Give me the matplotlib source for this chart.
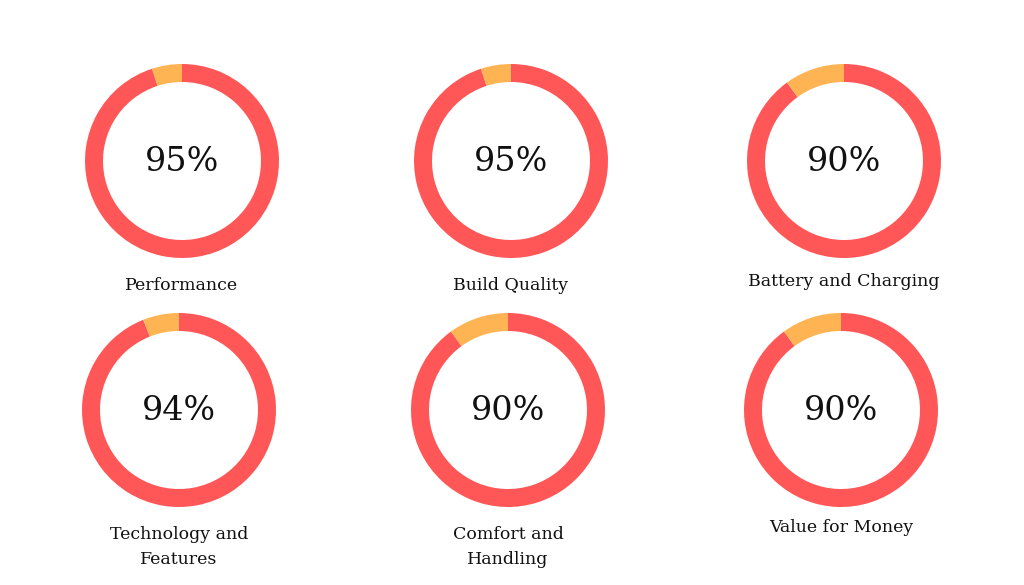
import matplotlib
matplotlib.use("Agg")
import matplotlib.pyplot as plt

categories = ["Performance", "Build Quality", "Battery and Charging",
              "Technology and\nFeatures", "Comfort and\nHandling", "Value for Money"]
scores = [95, 95, 90, 94, 90, 90]

RED = "#FF5757"
ORANGE = "#FFB454"

# layout in pixel coordinates (y downward)
centers = [(182, 161), (511, 161), (844, 161), (179, 410), (508, 410), (841, 410)]
label_y = [286, 286, 281, 547, 547, 528]
R = 97
W = 18

fig = plt.figure(figsize=(10.24, 5.85), dpi=100)
ax = fig.add_axes([0, 0, 1, 1])

for (cx, cy), s, cat, ly in zip(centers, scores, categories, label_y):
    # y axis is inverted, so start at -90 (screen top) and go counter-clockwise
    # in data space, which is clockwise on screen
    ax.pie([s, 100 - s], colors=[RED, ORANGE], startangle=-90, counterclock=True,
           radius=R, center=(cx, cy), wedgeprops=dict(width=W, linewidth=0),
           frame=True)
    ax.text(cx, cy + 1, f"{s}%", ha="center", va="center", fontsize=24,
            family="DejaVu Serif", color="#111111")
    ax.text(cx, ly, cat, ha="center", va="center", fontsize=12.5,
            family="DejaVu Serif", color="#111111", linespacing=1.55)

ax.set_xlim(0, 1024)
ax.set_ylim(585, 0)
ax.set_aspect("equal")
ax.axis("off")
fig.savefig("out.png", dpi=100, facecolor="white")
